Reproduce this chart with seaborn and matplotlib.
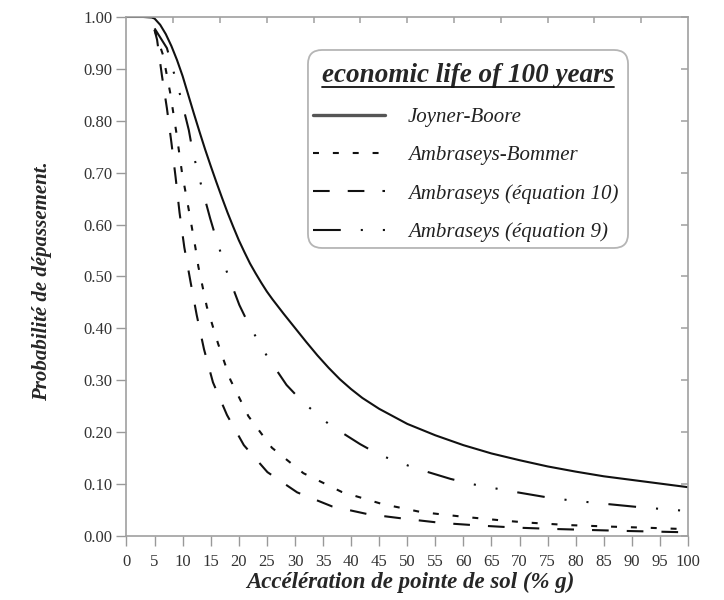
import numpy as np
import pandas as pd
import seaborn as sns
from matplotlib import pyplot as plt
from matplotlib.lines import Line2D
from matplotlib.patches import FancyBboxPatch

# curves (PGA in % g, probability of exceedance)
jb_x = [0, 3, 4.5, 5, 6, 7, 8, 9, 10, 11, 12, 13, 14, 15, 16, 17, 18, 19, 20, 21, 22,
        23, 24, 25, 26, 27, 28, 30, 32, 34, 36, 38, 40, 42, 45, 50, 55, 60, 65, 70, 75,
        80, 85, 90, 95, 100]
jb_y = [1.000, 1.000, 0.999, 0.997, 0.985, 0.967, 0.944, 0.917, 0.886, 0.850, 0.814,
        0.779, 0.745, 0.713, 0.682, 0.652, 0.623, 0.596, 0.570, 0.547, 0.525, 0.506,
        0.488, 0.471, 0.456, 0.442, 0.428, 0.401, 0.374, 0.348, 0.324, 0.302, 0.283,
        0.266, 0.245, 0.216, 0.194, 0.175, 0.159, 0.146, 0.134, 0.124, 0.115, 0.108,
        0.101, 0.094]

ab_x = [5, 6.5, 7.8, 8.9, 9.9, 11.1, 12.3, 12.8, 14.3, 16.3, 18.5, 21.7, 25.9, 31.5,
        38.3, 45.4, 52.5, 60, 67.3, 71.2, 78.7, 86.3, 93.7, 100]
ab_y = [0.975, 0.927, 0.853, 0.776, 0.699, 0.628, 0.554, 0.519, 0.442, 0.371, 0.301,
        0.231, 0.170, 0.121, 0.085, 0.062, 0.046, 0.037, 0.0295, 0.026, 0.021, 0.018,
        0.0155, 0.013]

e10_x = [5, 5.45, 6.3, 7.2, 8.0, 8.75, 9.45, 10.3, 11.4, 12.5, 13.8, 15.4, 17.9, 20.9,
         25.1, 30.4, 36.6, 43, 49.7, 56.2, 63, 69.6, 76.2, 82.7, 89.3, 96, 100]
e10_y = [0.975, 0.956, 0.888, 0.824, 0.758, 0.691, 0.623, 0.556, 0.490, 0.426, 0.360,
         0.296, 0.233, 0.175, 0.123, 0.084, 0.057, 0.042, 0.033, 0.025, 0.020, 0.016,
         0.0135, 0.0115, 0.0096, 0.008, 0.007]

e9_x = [5, 7.2, 9.6, 11.1, 11.8, 13.3, 14.9, 16.0, 17.9, 20.1, 21.8, 25.0, 28.5, 31.3,
        36.2, 41.6, 45.1, 51.3, 57.7, 61.7, 68.2, 74.8, 78.9, 85.5, 92.2, 96.1, 100]
e9_y = [0.978, 0.940, 0.848, 0.782, 0.740, 0.676, 0.612, 0.572, 0.508, 0.445, 0.407,
        0.347, 0.291, 0.259, 0.214, 0.177, 0.156, 0.131, 0.110, 0.0996, 0.0867, 0.0746,
        0.0688, 0.0617, 0.0546, 0.0514, 0.048]

names = ["Joyner-Boore", "Ambraseys-Bommer", "Ambraseys (équation 10)", "Ambraseys (équation 9)"]
x_ticks = list(range(0, 101, 5))
y_ticks = [i / 10 for i in range(11)]

frames = []
for name, xs, ys in zip(names, [jb_x, ab_x, e10_x, e9_x], [jb_y, ab_y, e10_y, e9_y]):
    frames.append(pd.DataFrame({"pga": xs, "prob": ys, "model": name}))
df = pd.concat(frames, ignore_index=True)

dash_map = {
    "Joyner-Boore": "",
    "Ambraseys-Bommer": (4.3, 10),
    "Ambraseys (équation 10)": (12, 13),
    "Ambraseys (équation 9)": (20, 14.4, 1.5, 14.4, 1.5, 14.4),
}

sns.set_theme(style="ticks")
plt.rcParams['font.family'] = ['Liberation Serif', 'DejaVu Serif']
plt.rcParams['lines.scale_dashes'] = False

fig = plt.figure(figsize=(7.24, 6.0), dpi=100)
ax = fig.add_axes([0.1747, 0.1067, 0.7756, 0.865])

sns.lineplot(data=df, x="pga", y="prob", style="model", dashes=dash_map, color="#111111",
             linewidth=1.5, estimator=None, sort=False, legend=False, ax=ax)

ax.set_xlim(0, 100)
ax.set_ylim(0, 1)
ax.set_xticks(x_ticks)
ax.set_xticklabels([str(t) for t in x_ticks])
ax.set_yticks(y_ticks)
ax.set_yticklabels(["%.2f" % t for t in y_ticks])
ax.set_xlabel("")
ax.set_ylabel("")
ax.tick_params(axis="both", direction="out", length=7, width=1, color="#999999",
               labelsize=12, labelcolor="#333333")
ax.tick_params(axis="x", pad=6)
ax.tick_params(axis="y", pad=3)
for s in ax.spines.values():
    s.set_visible(True)
    s.set_color("#a0a0a0")
    s.set_linewidth(1.2)

# small inward ticks on top and right
top = ax.secondary_xaxis("top")
top.set_xticks([k * 100 / 12 for k in range(1, 12)])
top.tick_params(direction="in", length=4, color="#aaaaaa", labeltop=False)
top.spines["top"].set_visible(False)
right = ax.secondary_yaxis("right")
right.set_yticks(y_ticks)
right.tick_params(direction="in", length=5, color="#aaaaaa", labelright=False)
right.spines["right"].set_visible(False)

fig.text(410 / 724, 1 - 582 / 600, "Accélération de pointe de sol (% g)", ha="center",
         va="center", fontsize=16.5, fontweight="bold", fontstyle="italic")
fig.text(42 / 724, 1 - 281 / 600, "Probabilité de dépassement.", ha="center", va="center",
         rotation=90, fontsize=15, fontweight="bold", fontstyle="italic")

# legend box
box = FancyBboxPatch((0.3232, 0.5549), 0.57, 0.3815, boxstyle="round,pad=0,rounding_size=0.025",
                     mutation_aspect=561.5 / 519, transform=ax.transAxes, facecolor="white",
                     edgecolor="#b5b5b5", linewidth=1.3, zorder=4)
ax.add_patch(box)
title = ax.text(0.608, 0.8748, "economic life of 100 years", transform=ax.transAxes,
                ha="center", va="baseline", fontsize=19.5, fontweight="bold",
                fontstyle="italic", zorder=5)

handles = [Line2D([], [], color="#111111", lw=1.5, linestyle=(0, dash_map[n]) if dash_map[n] else "-")
           for n in names]
handles[0].set_color("#555555")
handles[0].set_linewidth(2.4)
leg = ax.legend(handles, names, loc="upper left", bbox_to_anchor=(0.3322, 0.826),
                fontsize=15, handlelength=3.46, handletextpad=1.1, labelspacing=0.9,
                borderpad=0, frameon=False, borderaxespad=0)
leg.set_zorder(6)
for t in leg.get_texts():
    t.set_fontstyle("italic")
    t.set_color("#222222")

# underline the title
fig.canvas.draw()
bb = title.get_window_extent(fig.canvas.get_renderer())
inv = fig.transFigure.inverted()
p0 = inv.transform((bb.x0, bb.y0 + 1))
p1 = inv.transform((bb.x1, bb.y0 + 1))
fig.add_artist(Line2D([p0[0], p1[0]], [p0[1], p1[1]], color="#111111", lw=1.3,
                      transform=fig.transFigure, zorder=7))

plt.savefig("out.png", dpi=100)
plt.close()
